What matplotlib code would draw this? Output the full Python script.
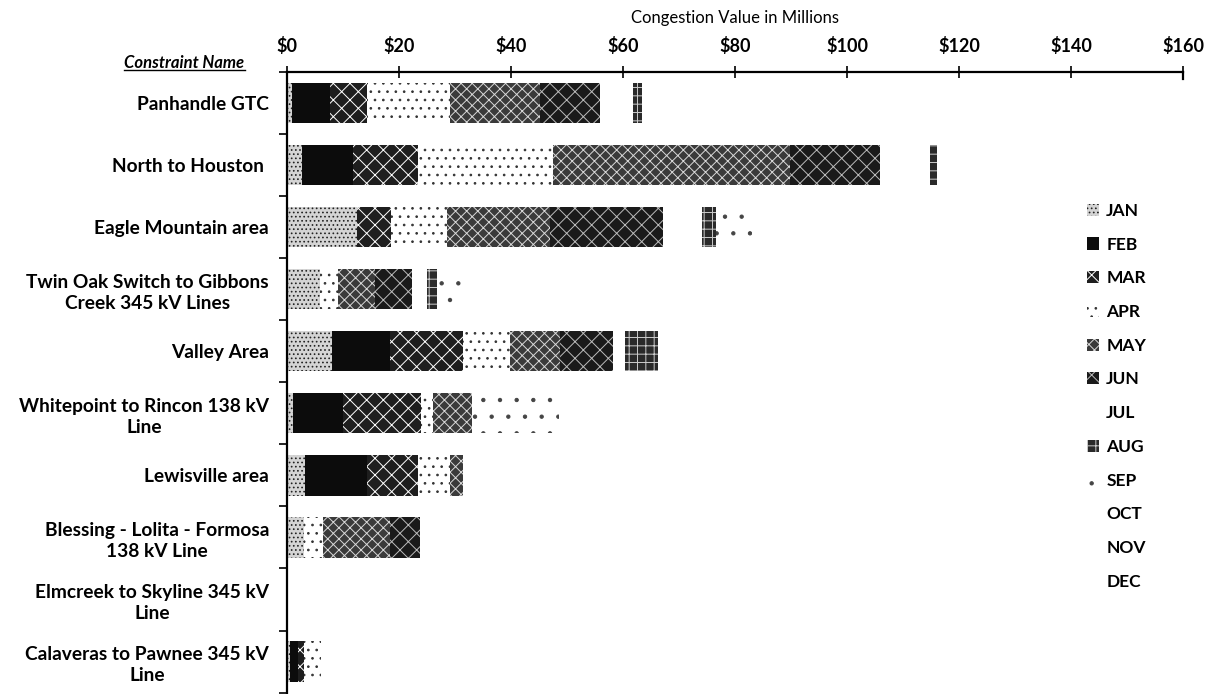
import numpy as np
import matplotlib
matplotlib.use("Agg")
import matplotlib.pyplot as plt
from matplotlib.ticker import FuncFormatter, MultipleLocator, FixedLocator
from matplotlib.patches import Patch
from matplotlib.lines import Line2D

plt.rcParams["font.family"] = ["Lato", "DejaVu Sans"]
plt.rcParams["hatch.linewidth"] = 0.7

constraints = [
    "Panhandle GTC",
    "North to Houston ",
    "Eagle Mountain area",
    "Twin Oak Switch to Gibbons\nCreek 345 kV Lines",
    "Valley Area",
    "Whitepoint to Rincon 138 kV\nLine",
    "Lewisville area",
    "Blessing - Lolita - Formosa\n138 kV Line",
    "Elmcreek to Skyline 345 kV\nLine",
    "Calaveras to Pawnee 345 kV\nLine",
]

months = ["JAN", "FEB", "MAR", "APR", "MAY", "JUN",
          "JUL", "AUG", "SEP", "OCT", "NOV", "DEC"]

# Monthly congestion value, $ millions, one list per month (rows follow `constraints`)
jan = [0.9, 2.7, 12.5, 5.9, 8.0, 1.0, 3.2, 3.0, 0.0, 0.5]
feb = [6.8, 9.1, 0.0, 0.0, 10.4, 9.0, 11.1, 0.0, 0.0, 1.5]
mar = [6.6, 11.6, 6.0, 0.0, 13.0, 14.0, 9.1, 0.0, 0.0, 1.0]
apr = [14.8, 24.1, 10.0, 3.2, 8.4, 2.0, 5.7, 3.4, 0.0, 3.0]
may = [16.1, 42.3, 18.4, 6.6, 8.9, 7.0, 2.3, 12.0, 0.0, 0.0]
jun = [10.7, 16.1, 20.2, 6.6, 9.5, 0.0, 0.0, 5.4, 0.0, 0.0]
jul = [5.9, 8.9, 7.0, 2.7, 2.1, 0.0, 0.0, 0.0, 0.0, 0.0]
aug = [1.6, 1.3, 2.5, 1.8, 5.9, 0.0, 0.0, 0.0, 0.0, 0.0]
sep = [0.0, 0.0, 6.5, 4.6, 0.0, 15.5, 0.0, 0.0, 0.0, 0.0]
oct_ = [0.0] * 10
nov = [0.0] * 10
dec = [0.0] * 10

series = [jan, feb, mar, apr, may, jun, jul, aug, sep, oct_, nov, dec]

# grayscale fills with textures for each month
styles = [
    dict(facecolor="#d4d4d4", edgecolor="#222222", hatch="...."),
    dict(facecolor="#0c0c0c", edgecolor="#0c0c0c", hatch=None),
    dict(facecolor="#1e1e1e", edgecolor="#ffffff", hatch="xx"),
    dict(facecolor="#ffffff", edgecolor="#333333", hatch=".."),
    dict(facecolor="#3a3a3a", edgecolor="#d8d8d8", hatch="xxx"),
    dict(facecolor="#1a1a1a", edgecolor="#bbbbbb", hatch="xx"),
    dict(facecolor="#ffffff", edgecolor="#ffffff", hatch=None),
    dict(facecolor="#2a2a2a", edgecolor="#cccccc", hatch="++"),
    dict(facecolor="#ffffff", edgecolor="#444444", hatch="."),
    dict(facecolor="#ffffff", edgecolor="#ffffff", hatch=None),
    dict(facecolor="#ffffff", edgecolor="#ffffff", hatch=None),
    dict(facecolor="#ffffff", edgecolor="#ffffff", hatch=None),
]

fig = plt.figure(figsize=(12.14, 6.94), dpi=100)
ax = fig.add_axes([0.2364, 0.002, 0.7382, 0.8945])

y = np.arange(len(constraints))
left = np.zeros(len(constraints))
for name, vals, st in zip(months, series, styles):
    vals = np.asarray(vals, dtype=float)
    ax.barh(y, vals, left=left, height=0.65, linewidth=0, label=name, **st)
    left += vals

ax.set_xlim(0, 160)
ax.set_ylim(len(constraints) - 0.5, -0.5)

# value axis on top
ax.xaxis.set_ticks_position("top")
ax.xaxis.set_label_position("top")
ax.xaxis.set_major_locator(MultipleLocator(20))
ax.xaxis.set_major_formatter(FuncFormatter(lambda v, p: f"${v:.0f}"))
ax.tick_params(axis="x", direction="inout", length=8, width=1.2, pad=8,
               labelsize=13)
for lab in ax.get_xticklabels():
    lab.set_fontweight("bold")
ax.set_xlabel("Congestion Value in Millions", fontsize=12, labelpad=10)

# category axis: labels at centres, tick marks at boundaries
ax.set_yticks(y)
ax.set_yticklabels(constraints, fontsize=13.8, fontweight="bold",
                   multialignment="center", linespacing=1.3)
ax.yaxis.set_minor_locator(FixedLocator(np.arange(-0.5, len(constraints), 1.0)))
ax.tick_params(axis="y", which="major", length=0, pad=13)
ax.tick_params(axis="y", which="minor", direction="out", length=6, width=1.2)

for side in ("right", "bottom"):
    ax.spines[side].set_visible(False)
ax.spines["top"].set_linewidth(1.6)
ax.spines["left"].set_linewidth(1.6)

# vertical tick at the far end of the value axis
ax.plot([160, 160], [-0.5, -0.38], color="black", lw=1.6, clip_on=False)

# header over the category labels
hdr = fig.text(0.2015, 0.897, "Constraint Name", ha="right", va="bottom",
               fontsize=12, fontweight="bold", style="italic")
fig.canvas.draw()
bb = hdr.get_window_extent().transformed(fig.transFigure.inverted())
fig.add_artist(Line2D([bb.x0, bb.x1], [bb.y0 + 0.002, bb.y0 + 0.002],
                      transform=fig.transFigure, color="black", lw=1.0))

handles = [Patch(label=m, linewidth=0, **st) for m, st in zip(months, styles)]
leg = ax.legend(handles=handles, loc="upper left",
                bbox_to_anchor=(0.885, 0.80), frameon=False,
                fontsize=12.5, handlelength=0.7, handleheight=0.7,
                handletextpad=0.4, labelspacing=1.02, borderaxespad=0)
for t in leg.get_texts():
    t.set_fontweight("bold")

fig.savefig("out.png", dpi=100, facecolor="white")
